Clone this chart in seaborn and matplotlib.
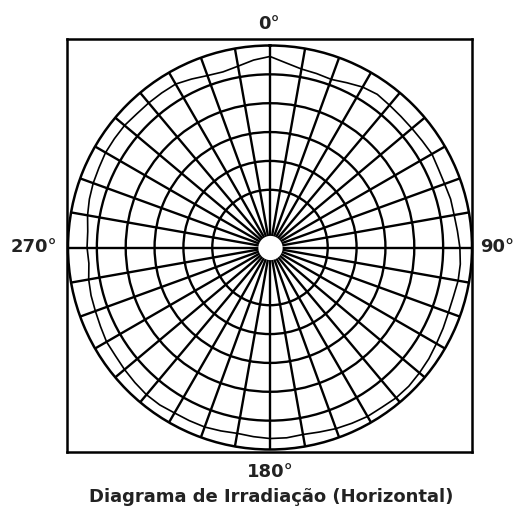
import numpy as np
import pandas as pd
import matplotlib
matplotlib.use("Agg")
import matplotlib.pyplot as plt
import seaborn as sns

# Horizontal radiation pattern, relative level (dB) every 5 degrees
angles_deg = list(range(0, 360, 5))
level_db = [
    -1.9, -2.9, -3.6, -3.8, -4.0, -3.5, -2.9, -2.6, -2.8, -2.9,
    -2.9, -2.8, -2.6, -2.8, -2.8, -2.6, -2.6, -2.4, -2.1, -1.9,
    -1.9, -2.1, -2.1, -1.9, -1.7, -1.4, -1.2, -1.0, -1.0, -1.2,
    -1.2, -1.4, -1.6, -1.9, -2.1, -1.9, -1.9, -2.1, -2.3, -2.1,
    -1.9, -1.9, -1.9, -1.7, -1.7, -1.9, -2.1, -2.3, -2.3, -2.6,
    -2.8, -2.9, -3.1, -3.5, -3.3, -3.3, -2.9, -2.6, -2.4, -2.3,
    -2.1, -2.1, -2.1, -2.3, -2.3, -2.3, -2.3, -2.8, -3.3, -3.5,
    -3.1, -2.4,
]
ring_db = [-25, -20, -15, -10, -5]
spoke_deg = list(range(0, 360, 10))
r_min, r_max = -35, 0
hub_db = -32.9

compass_labels = {"0°": (269, 24), "90°": (497, 247), "270°": (34, 247), "180°": (270, 472)}
title = "Diagrama de Irradiação (Horizontal)"

sns.set_style("white")
plt.rcParams["font.family"] = ["DejaVu Sans"]

W, H = 519, 509
fig = plt.figure(figsize=(W / 100, H / 100), dpi=100)
fig.patch.set_facecolor("white")

# Square frame around the diagram
frame = fig.add_axes([67 / W, 1 - 452 / H, 405 / W, 413 / H])
frame.set_xticks([])
frame.set_yticks([])
for s in frame.spines.values():
    s.set_color("black")
    s.set_linewidth(1.8)
frame.set_facecolor("white")

# Polar diagram
ax = fig.add_axes([68 / W, 1 - 449.5 / H, 404 / W, 404 / H], projection="polar")
ax.set_facecolor("none")
ax.set_theta_zero_location("N")
ax.set_theta_direction(-1)
ax.set_ylim(r_min, r_max)
ax.set_thetagrids(spoke_deg, labels=[""] * len(spoke_deg))
ax.set_rgrids(ring_db, labels=[""] * len(ring_db))
ax.grid(True, color="black", linewidth=1.7)
ax.spines["polar"].set_color("black")
ax.spines["polar"].set_linewidth(1.8)
ax.tick_params(length=0)

# White hub at the centre where the spokes meet
hub_t = np.linspace(0, 2 * np.pi, 200)
ax.fill_between(hub_t, r_min, hub_db, color="white", zorder=5, linewidth=0)

# Closed pattern curve: repeat the first sample at 360 degrees
df = pd.DataFrame({"theta": np.deg2rad(angles_deg + [angles_deg[0] + 360]),
                   "level": level_db + [level_db[0]]})
sns.lineplot(data=df, x="theta", y="level", ax=ax, sort=False,
             color="black", linewidth=1.2, zorder=6)
ax.set_xlabel("")
ax.set_ylabel("")
ax.set_ylim(r_min, r_max)

for txt, (x, y) in compass_labels.items():
    fig.text(x / W, 1 - y / H, txt, ha="center", va="center",
             fontsize=13, fontweight="bold", color="#222222")
fig.text(271 / W, 1 - 497 / H, title, ha="center", va="center",
         fontsize=13, fontweight="bold", color="#222222")

fig.savefig("out.png", dpi=100, facecolor="white")
